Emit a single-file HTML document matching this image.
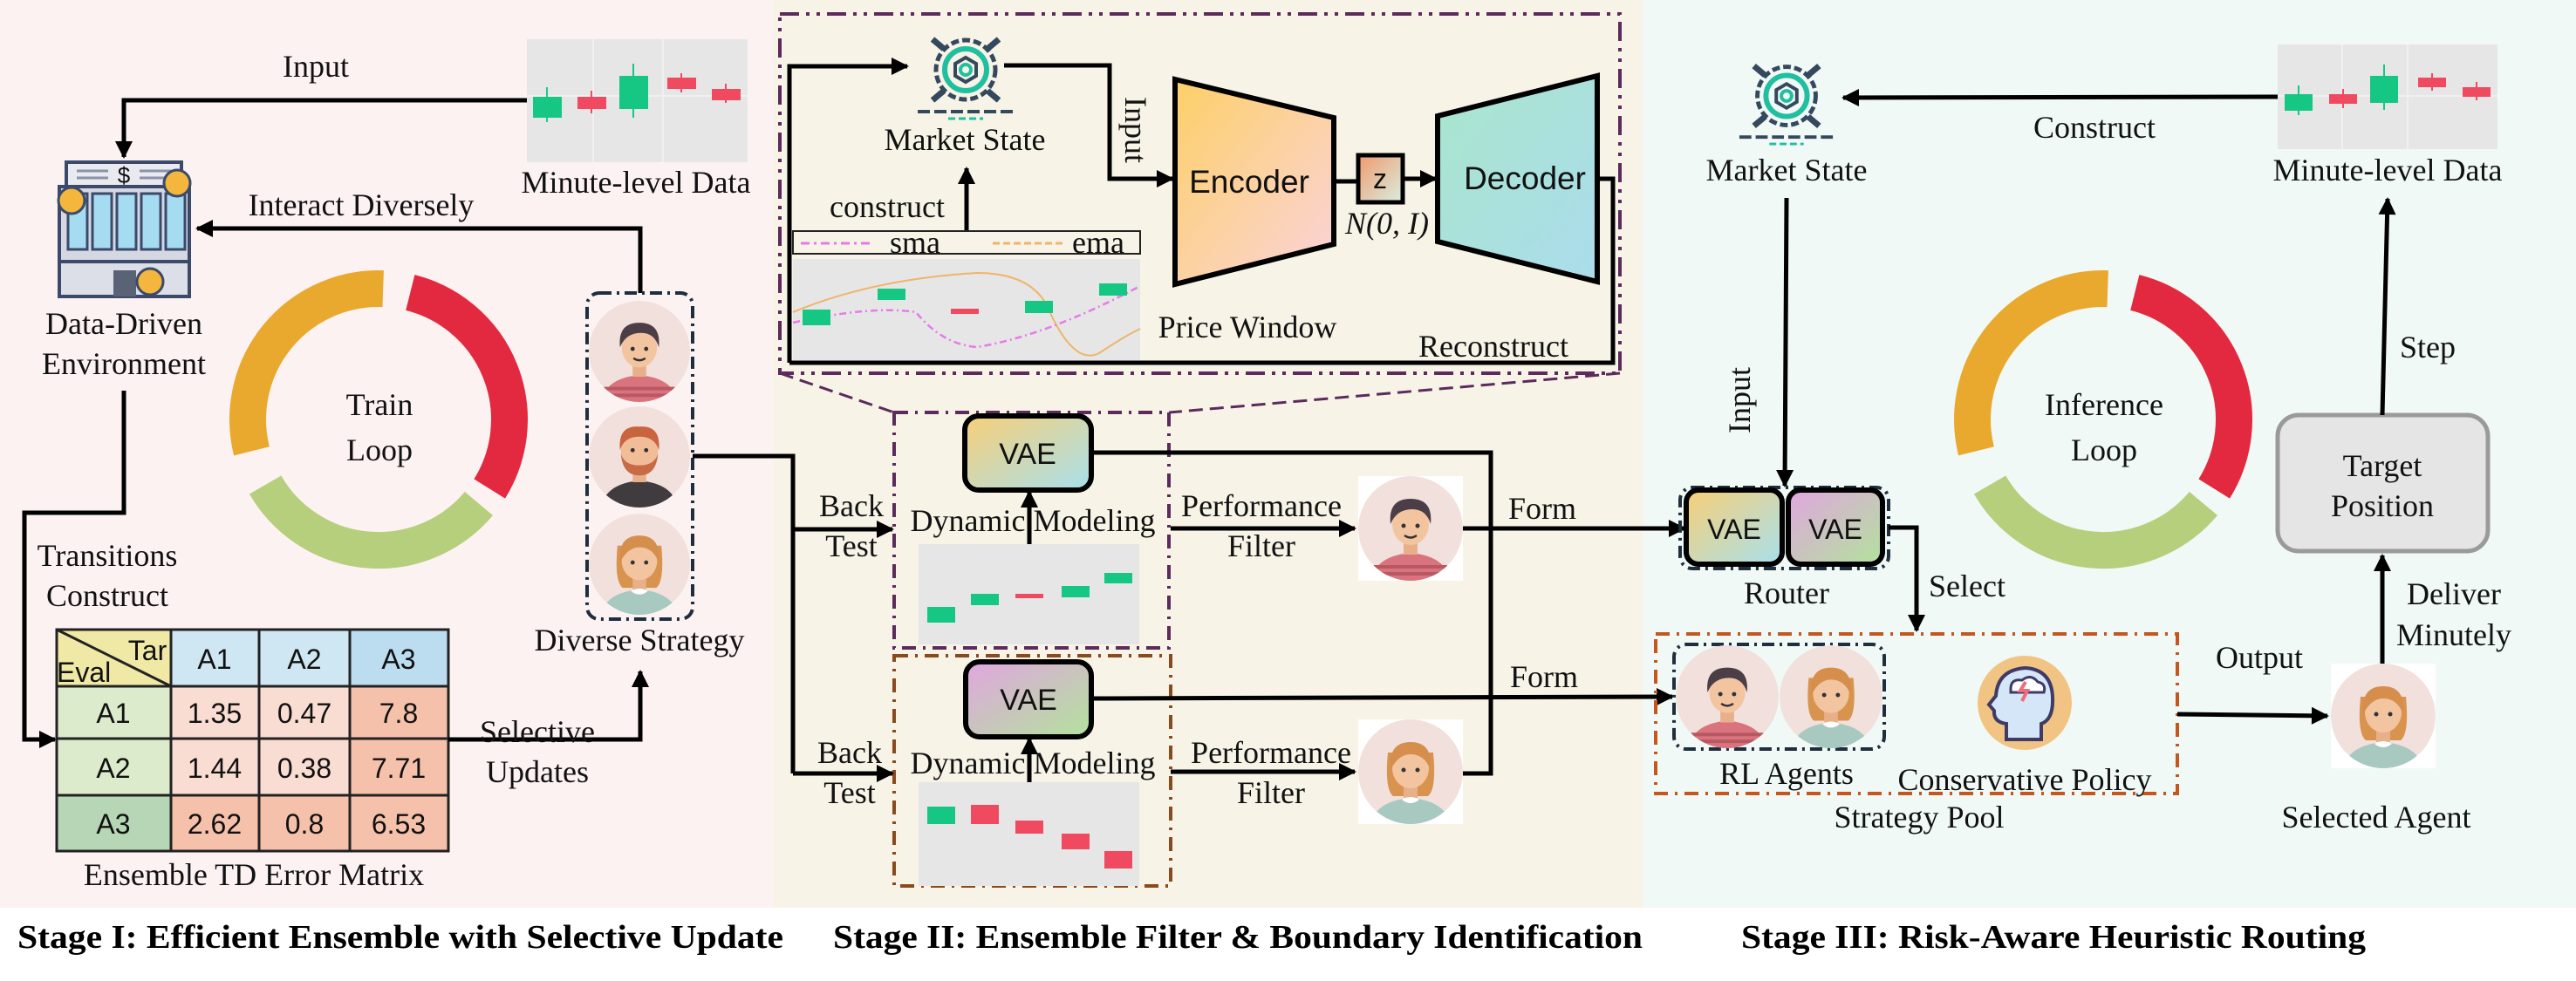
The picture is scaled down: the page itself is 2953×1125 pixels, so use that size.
<!DOCTYPE html>
<html><head><meta charset="utf-8"><style>
html,body{margin:0;padding:0;background:#fff}
svg{display:block}
.s{font-family:"Liberation Serif",serif;font-size:36px;fill:#111}
.a{font-family:"Liberation Sans",sans-serif;fill:#111}
.t{font-family:"Liberation Serif",serif;font-weight:bold;font-size:38px;fill:#000}
</style></head><body>
<svg width="2953" height="1125" viewBox="0 0 2953 1125" xmlns="http://www.w3.org/2000/svg">
<defs>
<marker id="ar" markerUnits="userSpaceOnUse" viewBox="0 0 10 10" refX="9" refY="5" markerWidth="22" markerHeight="20" orient="auto"><path d="M0,0 L10,5 L0,10z" fill="#000"/></marker>
<linearGradient id="enc" x1="0" y1="0" x2="1" y2="1"><stop offset="0" stop-color="#fcd067"/><stop offset="1" stop-color="#fbd3dc"/></linearGradient>
<linearGradient id="dec" x1="0" y1="0" x2="1" y2="1"><stop offset="0" stop-color="#a9e6cc"/><stop offset="1" stop-color="#abdcec"/></linearGradient>
<linearGradient id="v1" x1="0" y1="0" x2="1" y2="1"><stop offset="0" stop-color="#f8cf78"/><stop offset="1" stop-color="#a8e0ec"/></linearGradient>
<linearGradient id="v2" x1="0" y1="0" x2="1" y2="1"><stop offset="0" stop-color="#e1a6e0"/><stop offset="1" stop-color="#b2e29c"/></linearGradient>
<linearGradient id="zg" x1="0" y1="0" x2="1" y2="1"><stop offset="0" stop-color="#f09a6c"/><stop offset="1" stop-color="#d8efe2"/></linearGradient>
<clipPath id="cc"><circle cx="60" cy="60" r="60"/></clipPath>
<symbol id="boy" viewBox="0 0 120 120"><g clip-path="url(#cc)"><circle cx="60" cy="60" r="60" fill="#f2e0dc"/><path d="M14,125 Q16,92 60,88 Q104,92 106,125Z" fill="#d9737d"/><path d="M18,104 H102 M16,112 H104" stroke="#b85863" stroke-width="4"/><rect x="52" y="70" width="16" height="20" fill="#e8b08a"/><ellipse cx="60" cy="55" rx="21" ry="24" fill="#f3c4a0"/><path d="M37,55 Q34,26 60,26 Q86,26 83,55 Q78,38 62,38 Q44,38 37,55Z" fill="#4b3e47"/><circle cx="52" cy="57" r="2.5" fill="#333"/><circle cx="68" cy="57" r="2.5" fill="#333"/><path d="M53,68 Q60,73 67,68" stroke="#333" stroke-width="2.5" fill="none"/></g></symbol>
<symbol id="man" viewBox="0 0 120 120"><g clip-path="url(#cc)"><circle cx="60" cy="60" r="60" fill="#f2e0dc"/><path d="M14,125 Q16,92 60,88 Q104,92 106,125Z" fill="#403b3f"/><rect x="52" y="70" width="16" height="20" fill="#e8b08a"/><ellipse cx="60" cy="52" rx="22" ry="24" fill="#f0bd98"/><path d="M38,56 Q40,82 60,82 Q80,82 82,56 Q78,70 60,70 Q42,70 38,56Z" fill="#c86a43"/><path d="M37,52 Q34,22 60,24 Q86,22 83,52 Q78,36 60,36 Q42,36 37,52Z" fill="#c8653f"/><circle cx="52" cy="52" r="2.5" fill="#333"/><circle cx="68" cy="52" r="2.5" fill="#333"/></g></symbol>
<symbol id="girl" viewBox="0 0 120 120"><g clip-path="url(#cc)"><circle cx="60" cy="60" r="60" fill="#f2e0dc"/><path d="M34,38 Q30,80 40,88 L80,88 Q90,80 86,38Z" fill="#d8944f"/><path d="M14,125 Q16,94 60,90 Q104,94 106,125Z" fill="#a8c9c0"/><rect x="52" y="72" width="16" height="18" fill="#e8b08a"/><ellipse cx="60" cy="56" rx="21" ry="23" fill="#f3c4a0"/><path d="M37,58 Q34,26 60,26 Q86,26 83,58 Q76,40 60,40 Q46,40 37,58Z" fill="#d58e4c"/><circle cx="52" cy="58" r="2.5" fill="#333"/><circle cx="68" cy="58" r="2.5" fill="#333"/><path d="M50,92 Q60,100 70,92 Q60,86 50,92Z" fill="#fff"/></g></symbol>
<symbol id="gear" viewBox="0 0 120 120"><circle cx="60" cy="60" r="34" fill="none" stroke="#34495e" stroke-width="5" stroke-dasharray="9 4"/><circle cx="60" cy="60" r="24" fill="none" stroke="#1fbfa0" stroke-width="6"/><polygon points="60,46 72,53 72,67 60,74 48,67 48,53" fill="none" stroke="#34495e" stroke-width="4"/><circle cx="60" cy="60" r="6" fill="none" stroke="#1fbfa0" stroke-width="4"/><path d="M22,25 L35,36 M98,25 L85,36 M22,95 L35,84 M98,95 L85,84" stroke="#34495e" stroke-width="7"/><path d="M5,108 H115" stroke="#34495e" stroke-width="4" stroke-dasharray="14 5"/><path d="M40,116 H80" stroke="#1fbfa0" stroke-width="3" stroke-dasharray="8 4"/></symbol>
</defs>

<rect x="0" y="0" width="886" height="1041" fill="#fdf2f2"/>
<rect x="886" y="0" width="997" height="1041" fill="#f7f3e6"/>
<rect x="1883" y="0" width="1070" height="1041" fill="#f0f9f5"/>

<!-- ===== Stage I ===== -->
<rect x="604" y="45" width="253" height="141" fill="#e6e6e6"/>
<path d="M680,45V186 M760,45V186 M604,110H857" stroke="#f0f0f0" stroke-width="2"/>
<g stroke-width="2">
<line x1="627" y1="100" x2="627" y2="140" stroke="#1ec98a"/><rect x="611" y="111" width="33" height="24" fill="#16c784"/>
<line x1="678" y1="104" x2="678" y2="130" stroke="#f04a60"/><rect x="662" y="111" width="33" height="14" fill="#f04a60"/>
<line x1="726" y1="73" x2="726" y2="135" stroke="#16c784"/><rect x="710" y="87" width="33" height="38" fill="#16c784"/>
<line x1="781" y1="84" x2="781" y2="106" stroke="#f04a60"/><rect x="765" y="89" width="33" height="13" fill="#f04a60"/>
<line x1="832" y1="96" x2="832" y2="118" stroke="#f04a60"/><rect x="816" y="102" width="33" height="13" fill="#f04a60"/>
</g>
<text class="s" x="729" y="221" text-anchor="middle">Minute-level Data</text>
<text class="s" x="362" y="88" text-anchor="middle">Input</text>
<polyline points="604,115 142,115 142,180" fill="none" stroke="#000" stroke-width="5" marker-end="url(#ar)"/>

<rect x="76" y="186" width="132" height="28" fill="#e9e9f0" stroke="#3b4a6b" stroke-width="4"/>
<text x="142" y="210" class="a" font-size="26" text-anchor="middle" fill="#3b4a6b">$</text>
<path d="M88,196H124 M160,196H196 M88,204H124 M160,204H196" stroke="#8a93aa" stroke-width="3"/>
<rect x="68" y="214" width="149" height="86" fill="#d5d8e3" stroke="#3b4a6b" stroke-width="4"/>
<g fill="#a6dcf2" stroke="#3b4a6b" stroke-width="3"><rect x="78" y="222" width="22" height="64"/><rect x="106" y="222" width="22" height="64"/><rect x="134" y="222" width="22" height="64"/><rect x="162" y="222" width="22" height="64"/><rect x="190" y="222" width="22" height="64"/></g>
<rect x="68" y="300" width="149" height="40" fill="#dcdfe8" stroke="#3b4a6b" stroke-width="4"/>
<rect x="130" y="310" width="26" height="30" fill="#5a6275"/>
<g fill="#f4b63c" stroke="#3b4a6b" stroke-width="3"><circle cx="82" cy="230" r="15"/><circle cx="203" cy="210" r="15"/><circle cx="172" cy="323" r="15"/></g>
<text class="s" x="142" y="383" text-anchor="middle">Data-Driven</text>
<text class="s" x="142" y="429" text-anchor="middle">Environment</text>

<text class="s" x="414" y="247" text-anchor="middle">Interact Diversely</text>
<polyline points="734,336 734,262 226,262" fill="none" stroke="#000" stroke-width="5" marker-end="url(#ar)"/>

<g fill="none" stroke-width="42">
<path d="M288.5,517.3 A150,150 0 0 1 439.2,331.1" stroke="#e9a92e"/>
<path d="M470.3,335.5 A150,150 0 0 1 561.2,560.5" stroke="#e3293f"/>
<path d="M548.9,577.5 A150,150 0 0 1 304.1,556" stroke="#b5cf7d"/>
</g>
<text class="s" x="435" y="476" text-anchor="middle" font-size="40">Train</text>
<text class="s" x="435" y="528" text-anchor="middle" font-size="40">Loop</text>

<rect x="673" y="336" width="121" height="374" rx="14" fill="none" stroke="#1e2e3e" stroke-width="4" stroke-dasharray="14 6 3 6"/>
<use href="#boy" x="675" y="345" width="116" height="116"/>
<use href="#man" x="675" y="466" width="116" height="116"/>
<use href="#girl" x="675" y="589" width="116" height="116"/>
<text class="s" x="733" y="746" text-anchor="middle">Diverse Strategy</text>

<polyline points="142,448 142,588 28,588 28,848 63,848" fill="none" stroke="#000" stroke-width="5" marker-end="url(#ar)"/>
<text class="s" x="123" y="649" text-anchor="middle">Transitions</text>
<text class="s" x="123" y="695" text-anchor="middle">Construct</text>

<g stroke="#222" stroke-width="3">
<rect x="65" y="722" width="131" height="65" fill="#f0e9a6"/>
<rect x="196" y="722" width="101" height="65" fill="#cfe6f3"/>
<rect x="297" y="722" width="104" height="65" fill="#cfe6f3"/>
<rect x="401" y="722" width="113" height="65" fill="#bcdcf0"/>
<rect x="65" y="787" width="131" height="60" fill="#dcebcb"/>
<rect x="65" y="847" width="131" height="65" fill="#dcebcb"/>
<rect x="65" y="912" width="131" height="64" fill="#b7d6b5"/>
<rect x="196" y="787" width="101" height="60" fill="#f9dcd2"/>
<rect x="297" y="787" width="104" height="60" fill="#f9dcd2"/>
<rect x="401" y="787" width="113" height="60" fill="#f5c1aa"/>
<rect x="196" y="847" width="101" height="65" fill="#f9dcd2"/>
<rect x="297" y="847" width="104" height="65" fill="#f9dcd2"/>
<rect x="401" y="847" width="113" height="65" fill="#f5c1aa"/>
<rect x="196" y="912" width="101" height="64" fill="#f5c1aa"/>
<rect x="297" y="912" width="104" height="64" fill="#f5c1aa"/>
<rect x="401" y="912" width="113" height="64" fill="#f5c1aa"/>
<line x1="65" y1="722" x2="196" y2="787"/>
</g>
<g class="a" font-size="32" text-anchor="middle">
<text x="169" y="757">Tar</text><text x="65" y="782" text-anchor="start">Eval</text>
<text x="246" y="767">A1</text><text x="349" y="767">A2</text><text x="457" y="767">A3</text>
<text x="130" y="829">A1</text><text x="246" y="829">1.35</text><text x="349" y="829">0.47</text><text x="457" y="829">7.8</text>
<text x="130" y="892">A2</text><text x="246" y="892">1.44</text><text x="349" y="892">0.38</text><text x="457" y="892">7.71</text>
<text x="130" y="956">A3</text><text x="246" y="956">2.62</text><text x="349" y="956">0.8</text><text x="457" y="956">6.53</text>
</g>
<text class="s" x="291" y="1015" text-anchor="middle">Ensemble TD Error Matrix</text>
<polyline points="514,848 734,848 734,770" fill="none" stroke="#000" stroke-width="5" marker-end="url(#ar)"/>
<text class="s" x="616" y="851" text-anchor="middle">Selective</text>
<text class="s" x="616" y="897" text-anchor="middle">Updates</text>

<!-- ===== Stage II ===== -->
<rect x="894" y="16" width="963" height="412" fill="none" stroke="#5c2a5c" stroke-width="4" stroke-dasharray="22 8 4 8 4 8"/>
<polyline points="905,416 905,76 1040,76" fill="none" stroke="#000" stroke-width="5" marker-end="url(#ar)"/>
<polyline points="1831,205 1849,205 1849,416 905,416" fill="none" stroke="#000" stroke-width="5"/>
<use href="#gear" x="1047" y="20" width="120" height="120"/>
<text class="s" x="1106" y="172" text-anchor="middle">Market State</text>
<polyline points="1151,75 1272,75 1272,205 1344,205" fill="none" stroke="#000" stroke-width="5" marker-end="url(#ar)"/>
<text class="s" x="1290" y="149" text-anchor="middle" transform="rotate(90 1290 149)">Input</text>
<polygon points="1347,91 1529,135 1529,280 1347,326" fill="url(#enc)" stroke="#000" stroke-width="6"/>
<text class="a" x="1432" y="221" font-size="37" text-anchor="middle">Encoder</text>
<line x1="1529" y1="208" x2="1557" y2="208" stroke="#000" stroke-width="5"/>
<rect x="1557" y="178" width="51" height="54" fill="url(#zg)" stroke="#000" stroke-width="5"/>
<text class="a" x="1582" y="216" font-size="32" text-anchor="middle">z</text>
<line x1="1608" y1="205" x2="1646" y2="205" stroke="#000" stroke-width="5" marker-end="url(#ar)"/>
<text class="s" x="1590" y="268" text-anchor="middle" font-style="italic">N(0, I)</text>
<polygon points="1648,133 1831,87 1831,323 1648,277" fill="url(#dec)" stroke="#000" stroke-width="6"/>
<text class="a" x="1748" y="217" font-size="37" text-anchor="middle">Decoder</text>
<text class="s" x="1017" y="249" text-anchor="middle">construct</text>
<line x1="1108" y1="264" x2="1108" y2="193" stroke="#000" stroke-width="5" marker-end="url(#ar)"/>
<rect x="909" y="265" width="398" height="26" fill="#f7f3e6" stroke="#222" stroke-width="2"/>
<line x1="918" y1="279" x2="1001" y2="279" stroke="#e87ae8" stroke-width="3" stroke-dasharray="10 5 3 5"/>
<text class="s" x="1049" y="290" text-anchor="middle">sma</text>
<line x1="1138" y1="279" x2="1221" y2="279" stroke="#f0b46a" stroke-width="3" stroke-dasharray="8 4"/>
<text class="s" x="1259" y="290" text-anchor="middle">ema</text>
<rect x="909" y="297" width="398" height="116" fill="#e6e6e6"/>
<path d="M909,358 Q1000,320 1120,313 Q1180,313 1200,350 Q1230,420 1260,405 Q1290,385 1307,377" fill="none" stroke="#f0b46a" stroke-width="2"/>
<path d="M909,370 Q1000,350 1050,358 Q1080,395 1120,398 Q1200,385 1307,328" fill="none" stroke="#e87ae8" stroke-width="2.5" stroke-dasharray="8 4 2 4"/>
<rect x="920" y="355" width="32" height="18" fill="#16c784"/>
<rect x="1006" y="331" width="32" height="13" fill="#16c784"/>
<rect x="1090" y="354" width="32" height="6" fill="#f04a60"/>
<rect x="1175" y="345" width="32" height="14" fill="#16c784"/>
<rect x="1260" y="325" width="32" height="14" fill="#16c784"/>
<text class="s" x="1430" y="387" text-anchor="middle">Price Window</text>
<text class="s" x="1712" y="409" text-anchor="middle">Reconstruct</text>
<line x1="894" y1="428" x2="1025" y2="473" stroke="#5c2a5c" stroke-width="3" stroke-dasharray="16 8"/>
<line x1="1857" y1="428" x2="1340" y2="473" stroke="#5c2a5c" stroke-width="3" stroke-dasharray="16 8"/>

<rect x="1025" y="473" width="315" height="270" fill="none" stroke="#5c2a5c" stroke-width="4" stroke-dasharray="16 8 3 8"/>
<rect x="1106" y="477" width="145" height="85" rx="16" fill="url(#v1)" stroke="#000" stroke-width="6"/>
<text class="a" x="1178" y="532" font-size="34" text-anchor="middle">VAE</text>
<text class="s" x="1184" y="609" text-anchor="middle">Dynamic Modeling</text>
<line x1="1180" y1="624" x2="1180" y2="564" stroke="#000" stroke-width="5" marker-end="url(#ar)"/>
<rect x="1053" y="624" width="253" height="115" fill="#e6e6e6"/>
<rect x="1063" y="696" width="32" height="18" fill="#16c784"/>
<rect x="1113" y="681" width="32" height="13" fill="#16c784"/>
<rect x="1164" y="681" width="32" height="5" fill="#f04a60"/>
<rect x="1217" y="672" width="32" height="13" fill="#16c784"/>
<rect x="1266" y="657" width="32" height="12" fill="#16c784"/>

<rect x="1025" y="752" width="317" height="264" fill="none" stroke="#8b4a1e" stroke-width="4" stroke-dasharray="16 8 3 8"/>
<rect x="1107" y="759" width="144" height="86" rx="16" fill="url(#v2)" stroke="#000" stroke-width="6"/>
<text class="a" x="1179" y="814" font-size="34" text-anchor="middle">VAE</text>
<text class="s" x="1184" y="887" text-anchor="middle">Dynamic Modeling</text>
<line x1="1180" y1="897" x2="1180" y2="847" stroke="#000" stroke-width="5" marker-end="url(#ar)"/>
<rect x="1053" y="897" width="253" height="119" fill="#e6e6e6"/>
<rect x="1063" y="925" width="32" height="20" fill="#16c784"/>
<rect x="1113" y="923" width="32" height="22" fill="#f04a60"/>
<rect x="1164" y="941" width="32" height="15" fill="#f04a60"/>
<rect x="1217" y="956" width="32" height="18" fill="#f04a60"/>
<rect x="1266" y="976" width="32" height="20" fill="#f04a60"/>

<polyline points="794,523 909,523 909,887" fill="none" stroke="#000" stroke-width="5"/>
<line x1="909" y1="607" x2="1023" y2="607" stroke="#000" stroke-width="5" marker-end="url(#ar)"/>
<line x1="909" y1="887" x2="1023" y2="887" stroke="#000" stroke-width="5" marker-end="url(#ar)"/>
<text class="s" x="976" y="592" text-anchor="middle">Back</text>
<text class="s" x="976" y="638" text-anchor="middle">Test</text>
<text class="s" x="974" y="875" text-anchor="middle">Back</text>
<text class="s" x="974" y="921" text-anchor="middle">Test</text>
<line x1="1342" y1="606" x2="1553" y2="606" stroke="#000" stroke-width="5" marker-end="url(#ar)"/>
<text class="s" x="1446" y="592" text-anchor="middle">Performance</text>
<text class="s" x="1446" y="638" text-anchor="middle">Filter</text>
<line x1="1342" y1="885" x2="1553" y2="885" stroke="#000" stroke-width="5" marker-end="url(#ar)"/>
<text class="s" x="1457" y="875" text-anchor="middle">Performance</text>
<text class="s" x="1457" y="921" text-anchor="middle">Filter</text>
<rect x="1557" y="546" width="120" height="120" fill="#fff"/>
<use href="#boy" x="1557" y="546" width="120" height="120"/>
<rect x="1557" y="825" width="120" height="120" fill="#fff"/>
<use href="#girl" x="1557" y="825" width="120" height="120"/>
<polyline points="1251,519 1709,519 1709,887 1677,887" fill="none" stroke="#000" stroke-width="5"/>
<line x1="1677" y1="606" x2="1931" y2="606" stroke="#000" stroke-width="5" marker-end="url(#ar)"/>
<line x1="1251" y1="801" x2="1917" y2="799" stroke="#000" stroke-width="5" marker-end="url(#ar)"/>
<text class="s" x="1768" y="595" text-anchor="middle">Form</text>
<text class="s" x="1770" y="788" text-anchor="middle">Form</text>

<!-- ===== Stage III ===== -->
<use href="#gear" x="1989" y="51" width="118" height="118"/>
<text class="s" x="2048" y="207" text-anchor="middle">Market State</text>
<rect x="2611" y="51" width="252" height="120" fill="#e6e6e6"/>
<path d="M2685,51V171 M2760,51V171 M2611,110H2863" stroke="#f0f0f0" stroke-width="2"/>
<g stroke-width="2">
<line x1="2635" y1="98" x2="2635" y2="132" stroke="#16c784"/><rect x="2619" y="108" width="32" height="19" fill="#16c784"/>
<line x1="2686" y1="102" x2="2686" y2="124" stroke="#f04a60"/><rect x="2670" y="108" width="32" height="11" fill="#f04a60"/>
<line x1="2733" y1="74" x2="2733" y2="126" stroke="#16c784"/><rect x="2717" y="87" width="32" height="31" fill="#16c784"/>
<line x1="2788" y1="84" x2="2788" y2="104" stroke="#f04a60"/><rect x="2772" y="89" width="32" height="11" fill="#f04a60"/>
<line x1="2839" y1="94" x2="2839" y2="115" stroke="#f04a60"/><rect x="2823" y="100" width="32" height="11" fill="#f04a60"/>
</g>
<text class="s" x="2737" y="207" text-anchor="middle">Minute-level Data</text>
<line x1="2611" y1="111" x2="2113" y2="112" stroke="#000" stroke-width="5" marker-end="url(#ar)"/>
<text class="s" x="2401" y="158" text-anchor="middle">Construct</text>
<line x1="2048" y1="227" x2="2046" y2="557" stroke="#000" stroke-width="5" marker-end="url(#ar)"/>
<text class="s" x="1994" y="459" text-anchor="middle" transform="rotate(-90 1994 459)" dy="12">Input</text>

<rect x="1926" y="559" width="239" height="93" rx="14" fill="none" stroke="#1e2e3e" stroke-width="4" stroke-dasharray="14 6 3 6"/>
<rect x="1933" y="562" width="110" height="85" rx="14" fill="url(#v1)" stroke="#000" stroke-width="6"/>
<rect x="2050" y="562" width="108" height="85" rx="14" fill="url(#v2)" stroke="#000" stroke-width="6"/>
<text class="a" x="1988" y="618" font-size="32" text-anchor="middle">VAE</text>
<text class="a" x="2104" y="618" font-size="32" text-anchor="middle">VAE</text>
<text class="s" x="2048" y="692" text-anchor="middle">Router</text>
<polyline points="2165,605 2197,605 2197,723" fill="none" stroke="#000" stroke-width="5" marker-end="url(#ar)"/>
<text class="s" x="2255" y="684" text-anchor="middle">Select</text>

<rect x="1898" y="727" width="598" height="183" fill="none" stroke="#c4561e" stroke-width="4" stroke-dasharray="16 8 3 8"/>
<rect x="1919" y="739" width="241" height="120" rx="14" fill="none" stroke="#1e2e3e" stroke-width="4" stroke-dasharray="14 6 3 6"/>
<use href="#boy" x="1921" y="740" width="118" height="118"/>
<use href="#girl" x="2040" y="740" width="118" height="118"/>
<text class="s" x="2048" y="899" text-anchor="middle">RL Agents</text>
<circle cx="2321" cy="806" r="54" fill="#f2c484"/>
<path d="M2300,848 V830 Q2285,828 2286,815 L2280,808 L2288,798 Q2290,768 2322,766 Q2352,768 2353,800 Q2354,825 2340,830 V848Z" fill="#d4e6f7" stroke="#3f3a66" stroke-width="4"/>
<path d="M2305,790 Q2305,778 2318,780 Q2328,772 2336,782 Q2346,784 2343,794 H2305Z" fill="#fff" stroke="#3f3a66" stroke-width="3"/>
<path d="M2322,782 L2316,792 H2324 L2318,804" stroke="#f06a78" stroke-width="4" fill="none"/>
<text class="s" x="2321" y="906" text-anchor="middle">Conservative Policy</text>
<text class="s" x="2200" y="949" text-anchor="middle">Strategy Pool</text>
<line x1="2496" y1="819" x2="2668" y2="821" stroke="#000" stroke-width="5" marker-end="url(#ar)"/>
<text class="s" x="2590" y="766" text-anchor="middle">Output</text>
<rect x="2672" y="761" width="120" height="120" fill="#fff"/>
<use href="#girl" x="2672" y="761" width="120" height="120"/>
<text class="s" x="2724" y="949" text-anchor="middle">Selected Agent</text>
<line x1="2731" y1="761" x2="2731" y2="637" stroke="#000" stroke-width="5" marker-end="url(#ar)"/>
<text class="s" x="2813" y="693" text-anchor="middle">Deliver</text>
<text class="s" x="2813" y="740" text-anchor="middle">Minutely</text>
<rect x="2611" y="476" width="241" height="156" rx="24" fill="#e5e5e5" stroke="#9a9a9a" stroke-width="5"/>
<text class="s" x="2731" y="546" text-anchor="middle">Target</text>
<text class="s" x="2731" y="592" text-anchor="middle">Position</text>
<line x1="2731" y1="476" x2="2737" y2="228" stroke="#000" stroke-width="5" marker-end="url(#ar)"/>
<text class="s" x="2783" y="410" text-anchor="middle">Step</text>

<g fill="none" stroke-width="42">
<path d="M2265.5,517.3 A150,150 0 0 1 2416.2,331.1" stroke="#e9a92e"/>
<path d="M2447.3,335.5 A150,150 0 0 1 2538.2,560.5" stroke="#e3293f"/>
<path d="M2525.9,577.5 A150,150 0 0 1 2281.1,556" stroke="#b5cf7d"/>
</g>
<text class="s" x="2412" y="476" text-anchor="middle" font-size="40">Inference</text>
<text class="s" x="2412" y="528" text-anchor="middle" font-size="40">Loop</text>

<text class="t" x="20" y="1087" textLength="878" lengthAdjust="spacingAndGlyphs">Stage I: Efficient Ensemble with Selective Update</text>
<text class="t" x="955" y="1087" textLength="928" lengthAdjust="spacingAndGlyphs">Stage II: Ensemble Filter &amp; Boundary Identification</text>
<text class="t" x="1996" y="1087" textLength="716" lengthAdjust="spacingAndGlyphs">Stage III: Risk-Aware Heuristic Routing</text>
</svg>
</body></html>
